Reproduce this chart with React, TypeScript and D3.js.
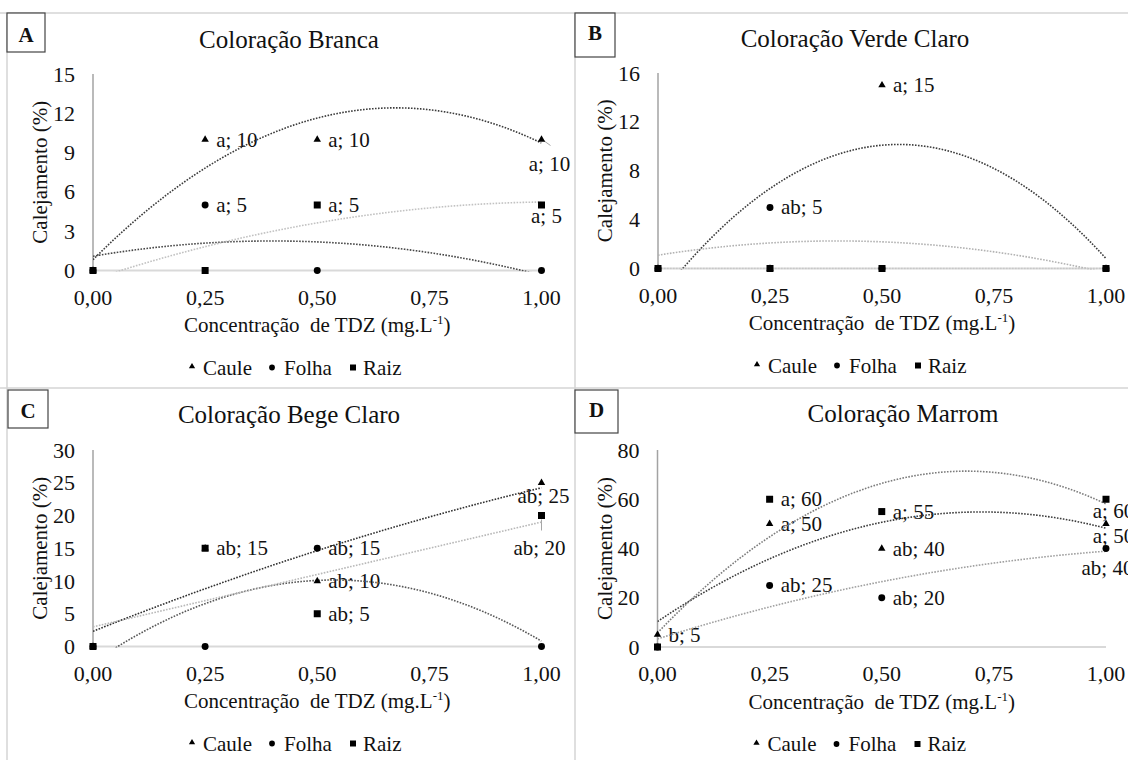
import React from "react";
import * as d3 from "d3";

// TDZ doses (mg.L-1) and the x-axis ticks
const DOSES = [0, 0.25, 0.5, 1];
const DOSE_TICKS = [0, 0.25, 0.5, 0.75, 1];
const SERIES_NAMES = ["Caule", "Folha", "Raiz"];

// A — Coloração Branca
const brancaCaule = [0, 10, 10, 10];
const brancaFolha = [0, 5, 0, 0];
const brancaRaiz = [0, 0, 5, 5];
const brancaCauleLetras = [null, "a", "a", "a"];
const brancaFolhaLetras = [null, "a", null, null];
const brancaRaizLetras = [null, null, "a", "a"];
const brancaTicks = [0, 3, 6, 9, 12, 15];

// B — Coloração Verde Claro
const verdeCaule = [0, 0, 15, 0];
const verdeFolha = [0, 5, 0, 0];
const verdeRaiz = [0, 0, 0, 0];
const verdeCauleLetras = [null, null, "a", null];
const verdeFolhaLetras = [null, "ab", null, null];
const verdeRaizLetras = [null, null, null, null];
const verdeTicks = [0, 4, 8, 12, 16];

// C — Coloração Bege Claro
const begeCaule = [0, 15, 10, 25];
const begeFolha = [0, 0, 15, 0];
const begeRaiz = [0, 15, 5, 20];
const begeCauleLetras = [null, null, "ab", "ab"];
const begeFolhaLetras = [null, null, "ab", null];
const begeRaizLetras = [null, "ab", "ab", "ab"];
const begeTicks = [0, 5, 10, 15, 20, 25, 30];

// D — Coloração Marrom
const marromCaule = [5, 50, 40, 50];
const marromFolha = [0, 25, 20, 40];
const marromRaiz = [0, 60, 55, 60];
const marromCauleLetras = ["b", "a", "ab", "a"];
const marromFolhaLetras = [null, "ab", "ab", "ab"];
const marromRaizLetras = [null, "a", "a", "a"];
const marromTicks = [0, 20, 40, 60, 80];

type Place = { dx: number; dy: number; anchor: string; leader?: [number, number, number, number] };

const PANELS = [
  {
    letter: "A",
    title: "Coloração Branca",
    values: [brancaCaule, brancaFolha, brancaRaiz],
    letters: [brancaCauleLetras, brancaFolhaLetras, brancaRaizLetras],
    ticks: brancaTicks,
    plot: { left: 93, right: 541.5, top: 74, bottom: 270.5 },
    titleX: 289,
    titleY: 48,
    box: { x: 7, y: 13, w: 38, h: 39, ty: 42 },
    trend: ["#3c3c3c", "#474747", "#c2c2c2"],
    places: {
      "0-3": { dx: 8, dy: 24, anchor: "middle", leader: [2, 1, 9, 6] },
      "2-3": { dx: 5, dy: 11, anchor: "middle" },
    } as Record<string, Place>,
  },
  {
    letter: "B",
    title: "Coloração Verde Claro",
    values: [verdeCaule, verdeFolha, verdeRaiz],
    letters: [verdeCauleLetras, verdeFolhaLetras, verdeRaizLetras],
    ticks: verdeTicks,
    plot: { left: 658, right: 1106, top: 73, bottom: 268.5 },
    titleX: 855,
    titleY: 47,
    box: { x: 575, y: 13, w: 40, h: 44, ty: 40 },
    trend: ["#3c3c3c", "#b2b2b2", "#c8c8c8"],
    places: {} as Record<string, Place>,
  },
  {
    letter: "C",
    title: "Coloração Bege Claro",
    values: [begeCaule, begeFolha, begeRaiz],
    letters: [begeCauleLetras, begeFolhaLetras, begeRaizLetras],
    ticks: begeTicks,
    plot: { left: 93, right: 541.5, top: 450, bottom: 646.5 },
    titleX: 289,
    titleY: 423,
    box: { x: 8, y: 390, w: 40, h: 38, ty: 418 },
    trend: ["#303030", "#575757", "#b8b8b8"],
    places: {
      "0-3": { dx: 2, dy: 13, anchor: "middle" },
      "2-3": { dx: -2, dy: 32, anchor: "middle", leader: [0, 4, 0, 15] },
    } as Record<string, Place>,
  },
  {
    letter: "D",
    title: "Coloração Marrom",
    values: [marromCaule, marromFolha, marromRaiz],
    letters: [marromCauleLetras, marromFolhaLetras, marromRaizLetras],
    ticks: marromTicks,
    plot: { left: 657.5, right: 1106, top: 450, bottom: 647 },
    titleX: 903,
    titleY: 422,
    box: { x: 575, y: 390, w: 43, h: 43, ty: 417 },
    trend: ["#3c3c3c", "#a0a0a0", "#7c7c7c"],
    places: {
      "0-3": { dx: 7.5, dy: 12, anchor: "middle" },
      "1-3": { dx: 1.5, dy: 19, anchor: "middle" },
      "2-3": { dx: 7.5, dy: 12, anchor: "middle" },
    } as Record<string, Place>,
  },
];

const FONT = '"Liberation Serif", "DejaVu Serif", "Times New Roman", Times, serif';
const commaFmt = d3
  .formatLocale({ decimal: ",", thousands: ".", grouping: [3], currency: ["", ""] })
  .format(".2f");

// Least-squares second-order polynomial, like a spreadsheet trendline
function quadFit(xs: number[], ys: number[]) {
  const S = (p: number) => d3.sum(xs, (x) => Math.pow(x, p));
  const T = (p: number) => d3.sum(xs, (x, i) => Math.pow(x, p) * ys[i]);
  const M = [
    [S(0), S(1), S(2), T(0)],
    [S(1), S(2), S(3), T(1)],
    [S(2), S(3), S(4), T(2)],
  ];
  for (let i = 0; i < 3; i++) {
    let p = i;
    for (let r = i + 1; r < 3; r++) if (Math.abs(M[r][i]) > Math.abs(M[p][i])) p = r;
    [M[i], M[p]] = [M[p], M[i]];
    for (let r = 0; r < 3; r++) {
      if (r === i) continue;
      const f = M[r][i] / M[i][i];
      for (let c = i; c < 4; c++) M[r][c] -= f * M[i][c];
    }
  }
  const k = [M[0][3] / M[0][0], M[1][3] / M[1][1], M[2][3] / M[2][2]];
  return (x: number) => k[0] + k[1] * x + k[2] * x * x;
}

const symbols = [d3.symbolTriangle, d3.symbolCircle, d3.symbolSquare];
const markerPath = [
  d3.symbol(symbols[0], 24)(),
  d3.symbol(symbols[1], 38)(),
  d3.symbol(symbols[2], 49)(),
];
const legendPath = [
  d3.symbol(symbols[0], 17)(),
  d3.symbol(symbols[1], 26)(),
  d3.symbol(symbols[2], 36)(),
];
const LEGEND_OFFSETS = [
  { m: 0, t: 11 },
  { m: 80, t: 92 },
  { m: 161, t: 171 },
];

const txt = { fontFamily: FONT } as React.CSSProperties;

function Panel({ cfg }: { cfg: (typeof PANELS)[number] }) {
  const { plot } = cfg;
  const yMax = cfg.ticks[cfg.ticks.length - 1];
  const x = d3.scaleLinear().domain([0, 1]).range([plot.left, plot.right]);
  const y = d3.scaleLinear().domain([0, yMax]).range([plot.bottom, plot.top]);
  const clipId = `clip-${cfg.letter}`;
  const grid = d3.range(0, 1.0001, 0.005);

  const trends = cfg.values.map((vals) => {
    const f = quadFit(DOSES, vals);
    return d3
      .line<number>()
      .x((d) => x(d))
      .y((d) => y(f(d)))(grid);
  });

  const labels: React.ReactNode[] = [];
  cfg.values.forEach((vals, s) => {
    vals.forEach((v, i) => {
      const letter = cfg.letters[s][i];
      if (!letter) return;
      const px = x(DOSES[i]);
      const py = y(v);
      const pl = cfg.places[`${s}-${i}`] || { dx: 11, dy: 0, anchor: "start" };
      labels.push(
        <g key={`l-${s}-${i}`}>
          {pl.leader && (
            <line
              x1={px + pl.leader[0]}
              y1={py + pl.leader[1]}
              x2={px + pl.leader[2]}
              y2={py + pl.leader[3]}
              stroke="#a6a6a6"
              strokeWidth={1}
            />
          )}
          <text
            x={px + pl.dx}
            y={py + pl.dy + 7}
            textAnchor={pl.anchor as any}
            fontSize={21}
            fill="#111"
            style={txt}
          >
            {`${letter}; ${v}`}
          </text>
        </g>
      );
    });
  });

  const legendX = plot.left + 99;
  const legendY = plot.bottom + 97;

  return (
    <g>
      <defs>
        <clipPath id={clipId}>
          <rect x={plot.left} y={plot.top} width={plot.right - plot.left} height={plot.bottom - plot.top + 1} />
        </clipPath>
      </defs>
      {/* panel letter */}
      <rect x={cfg.box.x} y={cfg.box.y} width={cfg.box.w} height={cfg.box.h} fill="#fff" stroke="#444" strokeWidth={1.2} />
      <text
        x={cfg.box.x + cfg.box.w / 2}
        y={cfg.box.ty}
        textAnchor="middle"
        fontSize={21}
        fontWeight="bold"
        fill="#111"
        style={txt}
      >
        {cfg.letter}
      </text>
      {/* title */}
      <text x={cfg.titleX} y={cfg.titleY} textAnchor="middle" fontSize={25} fill="#111" style={txt}>
        {cfg.title}
      </text>
      {/* axes */}
      <line x1={plot.left} x2={plot.right} y1={plot.bottom} y2={plot.bottom} stroke="#d9d9d9" strokeWidth={2} />
      <line x1={plot.left} x2={plot.left} y1={plot.top} y2={plot.bottom} stroke="#a3a3a3" strokeWidth={1.5} />
      {cfg.ticks.map((t) => (
        <text key={`yt-${t}`} x={plot.left - 18} y={y(t) + 7.5} textAnchor="end" fontSize={22} fill="#111" style={txt}>
          {t}
        </text>
      ))}
      {DOSE_TICKS.map((t) => (
        <text key={`xt-${t}`} x={x(t)} y={plot.bottom + 34} textAnchor="middle" fontSize={22} fill="#111" style={txt}>
          {commaFmt(t)}
        </text>
      ))}
      <text
        x={(plot.left + plot.right) / 2}
        y={plot.bottom + 61.5}
        textAnchor="middle"
        fontSize={21}
        fill="#111"
        style={{ ...txt, whiteSpace: "pre" }}
      >
        {"Concentração  de TDZ (mg.L"}
        <tspan fontSize={13} dy={-8}>
          -1
        </tspan>
        <tspan dy={8}>)</tspan>
      </text>
      <text
        transform={`translate(${plot.left - 46},${(plot.top + plot.bottom) / 2}) rotate(-90)`}
        textAnchor="middle"
        fontSize={21}
        fill="#111"
        style={txt}
      >
        Calejamento (%)
      </text>
      {/* data labels */}
      {labels}
      {/* trendlines */}
      <g clipPath={`url(#${clipId})`}>
        {trends.map((d, s) => (
          <path
            key={`tr-${s}`}
            d={d || ""}
            fill="none"
            stroke={cfg.trend[s]}
            strokeWidth={1.6}
            strokeDasharray="1.6 1.4"
          />
        ))}
      </g>
      {/* markers */}
      {cfg.values.map((vals, s) =>
        vals.map((v, i) => (
          <path
            key={`m-${s}-${i}`}
            d={markerPath[s] || ""}
            transform={`translate(${x(DOSES[i])},${y(v)})`}
            fill="#000"
          />
        ))
      )}
      {/* legend */}
      {SERIES_NAMES.map((name, s) => (
        <g key={`lg-${s}`}>
          <path
            d={legendPath[s] || ""}
            transform={`translate(${legendX + LEGEND_OFFSETS[s].m},${legendY - (s === 0 ? 1 : 0)})`}
            fill="#000"
          />
          <text x={legendX + LEGEND_OFFSETS[s].t} y={legendY + 7} fontSize={21} fill="#111" style={txt}>
            {name}
          </text>
        </g>
      ))}
    </g>
  );
}

export default function App() {
  return (
    <svg
      width={1128}
      height={760}
      viewBox="0 0 1128 760"
      style={{ position: "absolute", left: 0, top: 0, background: "#fff", fontFamily: FONT }}
    >
      <rect x={0} y={0} width={1128} height={760} fill="#fff" />
      {/* panel frame lines */}
      <line x1={0} x2={1128} y1={13} y2={13} stroke="#d4d4d4" strokeWidth={1.5} />
      <line x1={0} x2={1128} y1={388} y2={388} stroke="#d4d4d4" strokeWidth={1.5} />
      <line x1={7} x2={7} y1={13} y2={760} stroke="#d4d4d4" strokeWidth={1.5} />
      <line x1={575} x2={575} y1={13} y2={760} stroke="#d4d4d4" strokeWidth={1.5} />
      {PANELS.map((p) => (
        <Panel key={p.letter} cfg={p} />
      ))}
    </svg>
  );
}
